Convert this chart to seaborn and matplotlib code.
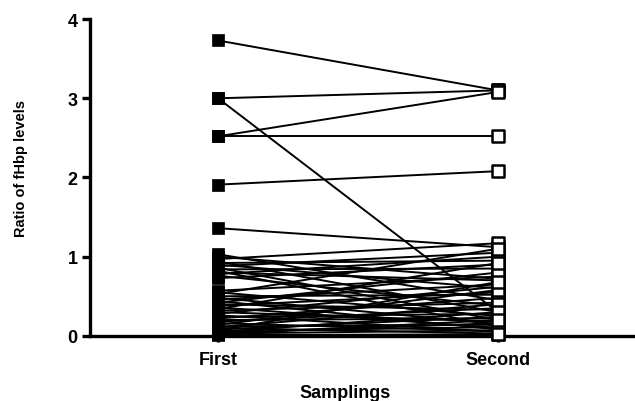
import pandas as pd
import matplotlib.pyplot as plt
import seaborn as sns

# paired ratios of fHbp levels, one entry per subject
first = [3.73, 3.00, 3.00, 2.52, 2.52, 1.91, 1.36,
         1.03, 1.00, 0.97, 0.94, 0.92, 0.90, 0.88, 0.86, 0.84, 0.82, 0.80, 0.78, 0.76, 0.73,
         0.57, 0.55, 0.53, 0.50, 0.48, 0.46, 0.44, 0.42, 0.40, 0.38, 0.36, 0.34, 0.32, 0.30,
         0.28, 0.26, 0.24, 0.22, 0.20, 0.18, 0.16, 0.14, 0.12, 0.11, 0.10, 0.08, 0.07, 0.06,
         0.05, 0.04, 0.03, 0.02, 0.01]
second = [3.10, 3.10, 0.30, 3.08, 2.52, 2.08, 1.12,
          0.45, 0.72, 1.17, 0.30, 0.95, 0.60, 1.05, 0.20, 0.85, 0.12, 0.70, 1.00, 0.38, 0.90,
          0.75, 0.25, 1.10, 0.52, 0.15, 0.65, 0.08, 0.80, 0.33, 0.55, 0.10, 0.92, 0.42, 0.18,
          0.62, 0.05, 0.28, 0.48, 0.22, 0.35, 0.06, 0.58, 0.14, 0.40, 0.03, 0.24, 0.68, 0.11,
          0.30, 0.16, 0.07, 0.20, 0.02]
samplings = ["First", "Second"]

n = len(first)
df = pd.DataFrame({
    "subject": list(range(n)) * 2,
    "sampling": [samplings[0]] * n + [samplings[1]] * n,
    "ratio": first + second,
})

sns.set_style("ticks", {"axes.edgecolor": "black", "xtick.color": "black",
                        "ytick.color": "black", "text.color": "black",
                        "axes.labelcolor": "black"})
plt.rcParams['font.family'] = ['Liberation Sans', 'DejaVu Sans']

fig = plt.figure(figsize=(6.35, 4.02), dpi=100)
ax = fig.add_axes([0.142, 0.162, 0.858, 0.788])

sns.lineplot(data=df, x="sampling", y="ratio", units="subject", estimator=None,
             color="black", lw=1.4, ax=ax, legend=False)
sns.scatterplot(data=df[df.sampling == "First"], x="sampling", y="ratio", marker="s",
                s=80, color="black", edgecolor="black", linewidth=0.5, ax=ax,
                zorder=3, clip_on=False)
sns.scatterplot(data=df[df.sampling == "Second"], x="sampling", y="ratio", marker="s",
                s=80, facecolor="white", edgecolor="black", linewidth=1.8, ax=ax,
                zorder=3, clip_on=False)

ax.set_xlim(-0.457, 1.49)
ax.set_ylim(0, 4)
ax.set_yticks([0, 1, 2, 3, 4])
sns.despine(ax=ax)
ax.spines["left"].set_linewidth(2.4)
ax.spines["bottom"].set_linewidth(2.4)
ax.tick_params(axis="y", length=6, width=2.4, labelsize=13, pad=3)
ax.tick_params(axis="x", length=4, width=2.4, labelsize=13, pad=7)
for lab in ax.get_xticklabels() + ax.get_yticklabels():
    lab.set_fontweight("bold")

ax.set_xlabel("Samplings", fontsize=13, fontweight="bold")
ax.set_ylabel("Ratio of fHbp levels", fontsize=10.5, fontweight="bold")
ax.xaxis.set_label_coords(0.468, -0.152)
ax.yaxis.set_label_coords(-0.114, 0.533)

fig.savefig("out.png", dpi=100)
